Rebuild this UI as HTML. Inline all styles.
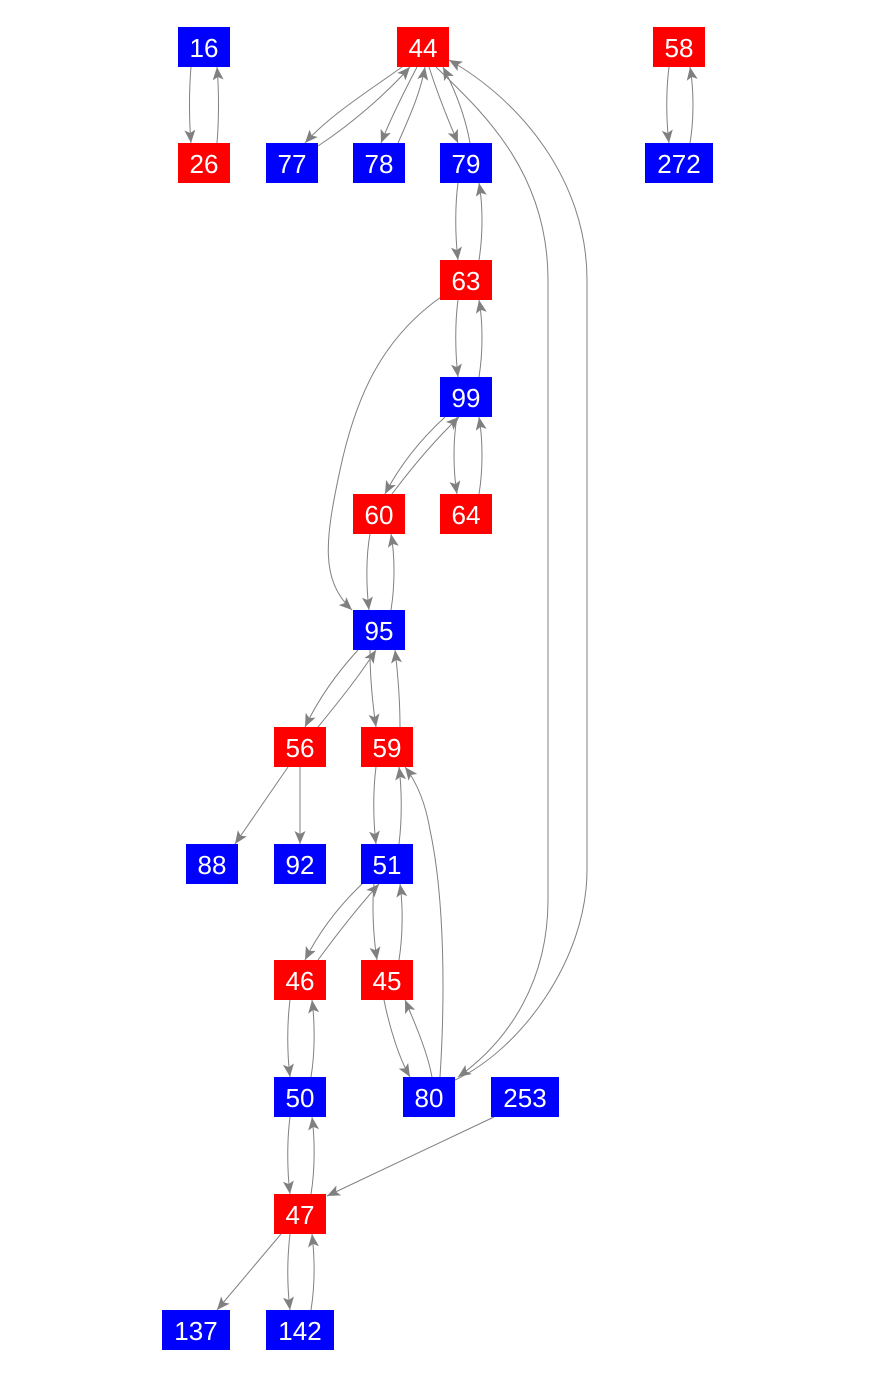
<!DOCTYPE html>
<html><head><meta charset="utf-8"><style>
html,body{margin:0;padding:0;background:#fff;width:875px;height:1375px;overflow:hidden}
svg text{font-family:"Liberation Sans",Arial,sans-serif;font-size:26px;fill:#fff;text-anchor:middle;dominant-baseline:central}
</style></head><body>
<svg width="875" height="1375" viewBox="0 0 875 1375" xmlns="http://www.w3.org/2000/svg">
<defs><marker id="a" markerUnits="userSpaceOnUse" markerWidth="14" markerHeight="12" refX="13" refY="6" orient="auto"><path d="M0,0.5 L13,6 L0,11.5 L3,6 Z" fill="#808080"/></marker></defs>
<g fill="none" stroke="#808080" stroke-width="1" marker-end="url(#a)">
<path d="M191,67 C189,90 189,120 191,143"/>
<path d="M217,143 C219,120 219,90 217,67"/>
<path d="M402,67 C370,90 330,115 305,143"/>
<path d="M318,146 C350,125 385,95 410,67"/>
<path d="M417,67 C405,90 390,120 381,143"/>
<path d="M398,143 C408,120 420,95 425,67"/>
<path d="M429,67 C438,95 448,120 458,143"/>
<path d="M470,143 C465,115 455,90 443,67"/>
<path d="M436,67 C480,110 548,170 548,280 L548,900 C548,980 510,1040 458,1077"/>
<path d="M455,1080 C520,1050 587,960 587,870 L587,280 C587,180 520,100 449,60"/>
<path d="M669,67 C666,90 666,120 669,143"/>
<path d="M690,143 C694,120 694,90 690,67"/>
<path d="M458,183 C455,205 455,235 458,260"/>
<path d="M479,260 C483,235 483,205 479,183"/>
<path d="M458,300 C455,322 455,352 458,377"/>
<path d="M479,377 C483,352 483,322 479,300"/>
<path d="M441,297 C380,340 355,400 340,470 C325,540 320,580 352,610"/>
<path d="M445,417 C420,440 400,465 385,494"/>
<path d="M392,494 C410,470 435,440 459,417"/>
<path d="M457,417 C453,440 453,470 457,494"/>
<path d="M479,494 C483,470 483,440 479,417"/>
<path d="M370,534 C366,556 366,585 369,610"/>
<path d="M391,610 C395,585 395,556 391,534"/>
<path d="M358,650 C335,675 318,700 305,727"/>
<path d="M318,727 C340,700 360,675 376,650"/>
<path d="M370,650 C370,675 372,700 376,727"/>
<path d="M400,727 C400,700 398,675 395,650"/>
<path d="M288,767 L235,844"/>
<path d="M300,767 L300,844"/>
<path d="M376,767 C373,790 373,820 376,844"/>
<path d="M399,844 C402,820 402,790 399,767"/>
<path d="M440,1077 C445,1000 445,900 430,830 C425,800 415,780 405,767"/>
<path d="M362,884 C340,905 320,930 305,960"/>
<path d="M318,960 C340,930 360,905 379,884"/>
<path d="M374,884 C372,905 373,935 377,960"/>
<path d="M399,960 C403,935 403,905 400,884"/>
<path d="M290,1000 C287,1023 287,1053 290,1077"/>
<path d="M311,1077 C315,1053 315,1023 312,1000"/>
<path d="M384,1000 C390,1030 400,1060 410,1077"/>
<path d="M432,1077 C428,1055 418,1030 405,1000"/>
<path d="M290,1117 C287,1140 287,1170 290,1194"/>
<path d="M311,1194 C315,1170 315,1140 312,1117"/>
<path d="M494,1117 L327,1196"/>
<path d="M281,1234 L217,1310"/>
<path d="M290,1234 C287,1260 287,1285 290,1310"/>
<path d="M311,1310 C315,1285 315,1260 312,1234"/>
</g>
<g>
<rect x="178" y="27" width="52" height="40" fill="#00f"/><text x="204" y="48">16</text>
<rect x="178" y="143" width="52" height="40" fill="#f00"/><text x="204" y="164">26</text>
<rect x="397" y="27" width="52" height="40" fill="#f00"/><text x="423" y="48">44</text>
<rect x="653" y="27" width="52" height="40" fill="#f00"/><text x="679" y="48">58</text>
<rect x="266" y="143" width="52" height="40" fill="#00f"/><text x="292" y="164">77</text>
<rect x="353" y="143" width="52" height="40" fill="#00f"/><text x="379" y="164">78</text>
<rect x="440" y="143" width="52" height="40" fill="#00f"/><text x="466" y="164">79</text>
<rect x="645" y="143" width="68" height="40" fill="#00f"/><text x="679" y="164">272</text>
<rect x="440" y="260" width="52" height="40" fill="#f00"/><text x="466" y="281">63</text>
<rect x="440" y="377" width="52" height="40" fill="#00f"/><text x="466" y="398">99</text>
<rect x="353" y="494" width="52" height="40" fill="#f00"/><text x="379" y="515">60</text>
<rect x="440" y="494" width="52" height="40" fill="#f00"/><text x="466" y="515">64</text>
<rect x="353" y="610" width="52" height="40" fill="#00f"/><text x="379" y="631">95</text>
<rect x="274" y="727" width="52" height="40" fill="#f00"/><text x="300" y="748">56</text>
<rect x="361" y="727" width="52" height="40" fill="#f00"/><text x="387" y="748">59</text>
<rect x="186" y="844" width="52" height="40" fill="#00f"/><text x="212" y="865">88</text>
<rect x="274" y="844" width="52" height="40" fill="#00f"/><text x="300" y="865">92</text>
<rect x="361" y="844" width="52" height="40" fill="#00f"/><text x="387" y="865">51</text>
<rect x="274" y="960" width="52" height="40" fill="#f00"/><text x="300" y="981">46</text>
<rect x="361" y="960" width="52" height="40" fill="#f00"/><text x="387" y="981">45</text>
<rect x="274" y="1077" width="52" height="40" fill="#00f"/><text x="300" y="1098">50</text>
<rect x="403" y="1077" width="52" height="40" fill="#00f"/><text x="429" y="1098">80</text>
<rect x="491" y="1077" width="68" height="40" fill="#00f"/><text x="525" y="1098">253</text>
<rect x="274" y="1194" width="52" height="40" fill="#f00"/><text x="300" y="1215">47</text>
<rect x="162" y="1310" width="68" height="40" fill="#00f"/><text x="196" y="1331">137</text>
<rect x="266" y="1310" width="68" height="40" fill="#00f"/><text x="300" y="1331">142</text>
</g>
</svg>
</body></html>
